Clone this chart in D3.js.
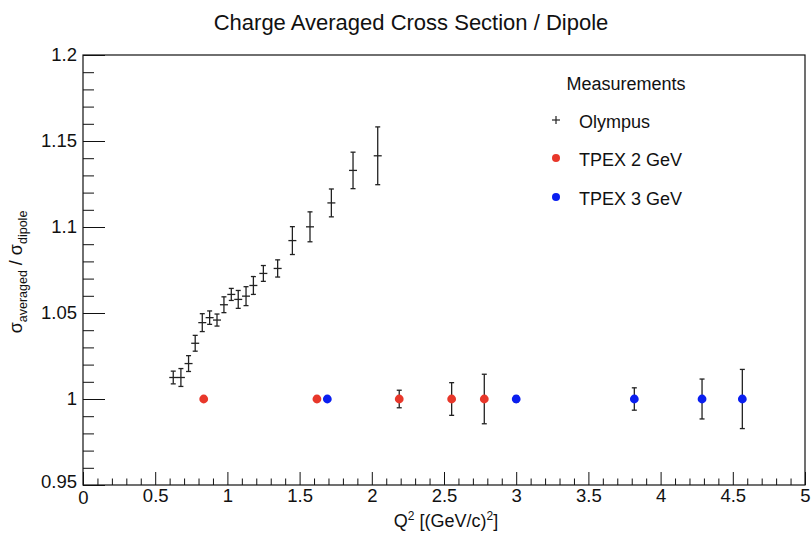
<!DOCTYPE html>
<html>
<head>
<meta charset="utf-8">
<script src="https://cdn.jsdelivr.net/npm/d3@7"></script>
<style>
  html, body { margin: 0; padding: 0; background: #fff; }
  svg { display: block; font-family: "Liberation Sans", Arial, Helvetica, sans-serif; }
</style>
</head>
<body>
<svg id="chart" width="811" height="535"></svg>
<script>
// Olympus: charge-averaged cross section ratio vs Q^2
const olympusQ2  = [0.625, 0.678, 0.731, 0.777, 0.826, 0.877, 0.928, 0.976, 1.027, 1.075,
                    1.129, 1.180, 1.249, 1.348, 1.450, 1.572, 1.720, 1.870, 2.041];
const olympusVal = [1.0125, 1.0125, 1.0206, 1.0324, 1.0444, 1.0473, 1.0459, 1.0548, 1.0608, 1.0579,
                    1.0598, 1.0660, 1.0730, 1.0759, 1.0921, 1.1001, 1.1140, 1.1329, 1.1414];
const olympusErr = [0.0037, 0.0052, 0.0046, 0.0046, 0.0052, 0.0039, 0.0035, 0.0046, 0.0035, 0.0052,
                    0.0055, 0.0052, 0.0046, 0.0050, 0.0081, 0.0087, 0.0081, 0.0106, 0.0168];

// TPEX projections at 2 GeV and 3 GeV beam energy
const tpex2Q2  = [0.836, 1.620, 2.190, 2.553, 2.779];
const tpex2Val = [1.0, 1.0, 1.0, 1.0, 1.0];
const tpex2Err = [0.0010, 0.0015, 0.0051, 0.0095, 0.0144];

const tpex3Q2  = [1.692, 3.000, 3.818, 4.287, 4.566];
const tpex3Val = [1.0, 1.0, 1.0, 1.0, 1.0];
const tpex3Err = [0.0012, 0.0018, 0.0065, 0.0116, 0.0172];

const xTicks = [0, 0.5, 1, 1.5, 2, 2.5, 3, 3.5, 4, 4.5, 5];
const yTicks = [0.95, 1, 1.05, 1.1, 1.15, 1.2];

const legendTitle = "Measurements";
const legendNames = ["Olympus", "TPEX 2 GeV", "TPEX 3 GeV"];

const frame = { left: 83, right: 805, top: 55, bottom: 485 };
const svg = d3.select("#chart");

const x = d3.scaleLinear().domain([0, 5]).range([frame.left, frame.right]);
const y = d3.scaleLinear().domain([0.95, 1.2]).range([frame.bottom, frame.top]);

const ink = "#111";
const labelSize = 18.5;

// Title
svg.append("text")
  .attr("x", 411).attr("y", 30)
  .attr("text-anchor", "middle")
  .attr("font-size", 22)
  .attr("fill", ink)
  .text("Charge Averaged Cross Section / Dipole");

// Frame
svg.append("rect")
  .attr("x", frame.left).attr("y", frame.top)
  .attr("width", frame.right - frame.left).attr("height", frame.bottom - frame.top)
  .attr("fill", "none").attr("stroke", ink).attr("stroke-width", 1.2);

// X axis: ticks pointing into the plot
const xAxis = d3.axisTop(x)
  .tickValues(d3.range(0, 5.0001, 0.1).map(v => +v.toFixed(2)))
  .tickSizeInner(0).tickSizeOuter(0).tickFormat("");
const gx = svg.append("g").attr("transform", `translate(0,${frame.bottom})`).call(xAxis);
gx.select(".domain").remove();
gx.selectAll(".tick line")
  .attr("y2", d => (Math.abs(d * 2 - Math.round(d * 2)) < 1e-6 ? -13 : -6.5))
  .attr("stroke", ink);

const xLab = d3.axisBottom(x).tickValues(xTicks).tickSize(0).tickPadding(0)
  .tickFormat(d3.format("~g"));
const gxl = svg.append("g").attr("transform", `translate(0,${frame.bottom})`).call(xLab);
gxl.select(".domain").remove();
gxl.selectAll("text").attr("dy", 0).attr("y", 17).attr("font-size", labelSize)
  .attr("font-family", "Liberation Sans, Arial, sans-serif").attr("fill", ink);
gxl.selectAll(".tick").filter(d => d === 0).select("text").attr("y", 19);

// Y axis
const yAxis = d3.axisRight(y)
  .tickValues(d3.range(0.95, 1.2001, 0.01).map(v => +v.toFixed(3)))
  .tickSizeInner(0).tickSizeOuter(0).tickFormat("");
const gy = svg.append("g").attr("transform", `translate(${frame.left},0)`).call(yAxis);
gy.select(".domain").remove();
gy.selectAll(".tick line")
  .attr("x2", d => (Math.abs(d * 20 - Math.round(d * 20)) < 1e-6 ? 22 : 11))
  .attr("stroke", ink);

const yLab = d3.axisLeft(y).tickValues(yTicks).tickSize(0).tickPadding(6)
  .tickFormat(d3.format("~g"));
const gyl = svg.append("g").attr("transform", `translate(${frame.left},0)`).call(yLab);
gyl.select(".domain").remove();
gyl.selectAll("text").attr("font-size", labelSize)
  .attr("font-family", "Liberation Sans, Arial, sans-serif").attr("fill", ink)
  .attr("dy", d => d === 0.95 ? "0.15em" : "0.32em");

// Axis titles
const xTitle = svg.append("text")
  .attr("x", 446).attr("y", 527)
  .attr("text-anchor", "middle").attr("font-size", 18).attr("fill", ink);
xTitle.append("tspan").text("Q");
xTitle.append("tspan").attr("font-size", 12).attr("dy", -7).text("2");
xTitle.append("tspan").attr("dy", 7).text(" [(GeV/c)");
xTitle.append("tspan").attr("font-size", 12).attr("dy", -7).text("2");
xTitle.append("tspan").attr("dy", 7).text("]");

const yTitle = svg.append("text")
  .attr("transform", "translate(22,272) rotate(-90)")
  .attr("text-anchor", "middle").attr("font-size", 18).attr("fill", ink);
yTitle.append("tspan").text("σ");
yTitle.append("tspan").attr("font-size", 12.5).attr("dy", 5).text("averaged");
yTitle.append("tspan").attr("dy", -5).text(" / σ");
yTitle.append("tspan").attr("font-size", 12.5).attr("dy", 5).text("dipole");

// Error bars with end caps
function errorBars(g, xs, vs, es, capHalf) {
  xs.forEach((q, i) => {
    const cx = x(q), top = y(vs[i] + es[i]), bot = y(vs[i] - es[i]);
    g.append("line").attr("x1", cx).attr("x2", cx).attr("y1", top).attr("y2", bot)
      .attr("stroke", "#222").attr("stroke-width", 1.3);
    [top, bot].forEach(yy => g.append("line")
      .attr("x1", cx - capHalf).attr("x2", cx + capHalf).attr("y1", yy).attr("y2", yy)
      .attr("stroke", "#222").attr("stroke-width", 1.3));
  });
}

const plot = svg.append("g");

// Olympus: "+" markers with error bars
errorBars(plot, olympusQ2, olympusVal, olympusErr, 2.5);
olympusQ2.forEach((q, i) => {
  const cx = x(q), cy = y(olympusVal[i]);
  plot.append("line").attr("x1", cx - 4).attr("x2", cx + 4).attr("y1", cy).attr("y2", cy)
    .attr("stroke", "#222").attr("stroke-width", 1.3);
});

// TPEX series (error bars first, markers on top)
errorBars(plot, tpex2Q2, tpex2Val, tpex2Err, 2.5);
errorBars(plot, tpex3Q2, tpex3Val, tpex3Err, 2.5);
plot.selectAll("circle.t2").data(tpex2Q2).join("circle").attr("class", "t2")
  .attr("cx", d => x(d)).attr("cy", (d, i) => y(tpex2Val[i])).attr("r", 4.4)
  .attr("fill", "#e8372a");
plot.selectAll("circle.t3").data(tpex3Q2).join("circle").attr("class", "t3")
  .attr("cx", d => x(d)).attr("cy", (d, i) => y(tpex3Val[i])).attr("r", 4.4)
  .attr("fill", "#0a1ef0");

// Legend
const leg = svg.append("g");
leg.append("text").attr("x", 626).attr("y", 90).attr("text-anchor", "middle")
  .attr("font-size", 18).attr("fill", ink).text(legendTitle);
const legY = [122, 160, 199];
legendNames.forEach((name, i) => {
  leg.append("text").attr("x", 579).attr("y", legY[i] + 6).attr("font-size", 18)
    .attr("fill", ink).text(name);
});
leg.append("line").attr("x1", 552).attr("x2", 560).attr("y1", legY[0] - 2).attr("y2", legY[0] - 2)
  .attr("stroke", "#222").attr("stroke-width", 1.2);
leg.append("line").attr("x1", 556).attr("x2", 556).attr("y1", legY[0] - 6).attr("y2", legY[0] + 2)
  .attr("stroke", "#222").attr("stroke-width", 1.2);
leg.append("circle").attr("cx", 556).attr("cy", legY[1] - 2).attr("r", 4).attr("fill", "#e8372a");
leg.append("circle").attr("cx", 556).attr("cy", legY[2] - 2).attr("r", 4).attr("fill", "#0a1ef0");
</script>
</body>
</html>
